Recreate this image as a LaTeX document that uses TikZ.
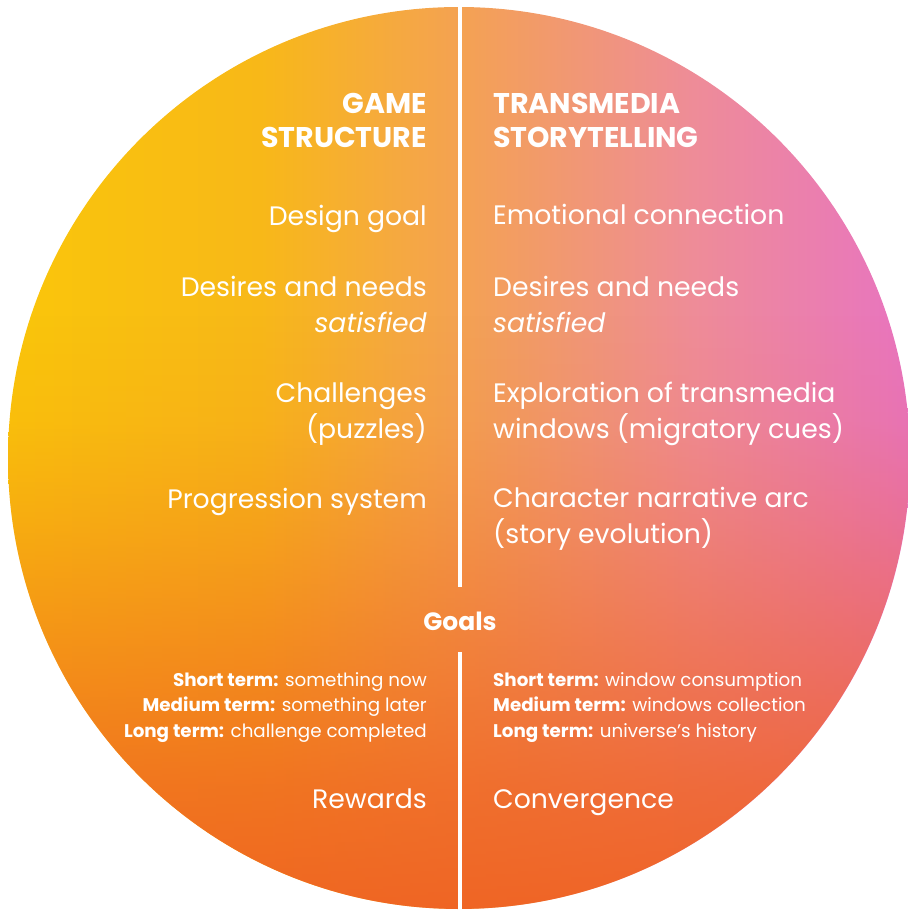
\documentclass[tikz,border=0pt]{standalone}
\usepackage{fontspec}
\setmainfont{Poppins}
\usetikzlibrary{fadings,positioning}

\definecolor{sunyellow}{HTML}{FAC60A}
\definecolor{amber}{HTML}{F8B818}
\definecolor{peach}{HTML}{F4A252}
\definecolor{salmon}{HTML}{EE8C98}
\definecolor{rosepink}{HTML}{E874C0}
\definecolor{ember}{HTML}{EF6222}

% the path box takes the part from 25bp to 75bp
\pgfdeclarehorizontalshading{halfshade}{100bp}{color(0bp)=(sunyellow); color(25bp)=(sunyellow); color(39bp)=(amber); color(50bp)=(peach); color(63bp)=(salmon); color(75bp)=(rosepink); color(100bp)=(rosepink)}
% bottom of the circle turns orange-red
\pgfdeclareverticalshading{goalshade}{100bp}{color(0bp)=(pgftransparent!5); color(25bp)=(pgftransparent!5); color(32bp)=(pgftransparent!22); color(41bp)=(pgftransparent!55); color(46.5bp)=(pgftransparent!75); color(52bp)=(pgftransparent!92); color(58bp)=(pgftransparent!100); color(100bp)=(pgftransparent!100)}
\begin{tikzfadingfrompicture}[name=goalfade]
  \shade[shading=goalshade] (-25bp,-25bp) rectangle (25bp,25bp);
\end{tikzfadingfrompicture}

\begin{document}
\begin{tikzpicture}[x=1pt,y=-1pt,
  head/.style={font=\bfseries\fontsize{28.5}{34}\selectfont,text=white,inner sep=0pt},
  body/.style={font=\fontsize{26.7}{36}\selectfont,text=white,inner sep=0pt},
  small/.style={font=\fontsize{18.3}{25.5}\selectfont,text=white,inner sep=0pt},
  lcol/.style={anchor=base east,align=right},
  rcol/.style={anchor=base west,align=left},
  divider/.style={white,line width=4.5pt}
]
  \useasboundingbox (0,0) rectangle (908,911);
  \shade[shading=halfshade] (459,458) circle[radius=451];
  \fill[ember,path fading=goalfade] (459,458) circle[radius=451];

  % left column (base = last line)
  \node[head,lcol] (gs)   at (427,147) {GAME\\STRUCTURE};
  \node[body,lcol] (dg)   at (427,225) {Design goal};
  \node[body,lcol] (dnl)  at (427,332) {Desires and needs\\\textit{satisfied}};
  \node[body,lcol] (ch)   at (427,438) {Challenges\\(puzzles)};
  \node[body,lcol] (ps)   at (427,508) {Progression system};
  \node[small,lcol] (gtl) at (427,737) {\textbf{Short term:} something now\\\textbf{Medium term:} something later\\\textbf{Long term:} challenge completed};
  \node[body,lcol] (rw)   at (427,808) {Rewards};

  % right column
  \node[head,rcol] (ts)   at (493,147) {TRANSMEDIA\\STORYTELLING};
  \node[body,rcol] (ec)   at (493,224) {Emotional connection};
  \node[body,rcol] (dnr)  at (493,332) {Desires and needs\\\textit{satisfied}};
  \node[body,rcol] (ex)   at (493,438) {Exploration of transmedia\\windows (migratory cues)};
  \node[body,rcol] (ca)   at (493,543) {Character narrative arc\\(story evolution)};
  \node[small,rcol] (gtr) at (493,737) {\textbf{Short term:} window consumption\\\textbf{Medium term:} windows collection\\\textbf{Long term:} universe’s history};
  \node[body,rcol] (cv)   at (493,808) {Convergence};

  \node[head,font=\bfseries\fontsize{25}{30}\selectfont,anchor=base] (goals) at (460,630) {Goals};

  \coordinate (dtop) at (460,0);
  \coordinate (dmid) at (460,587);
  \coordinate (dlow) at (460,652);
  \coordinate (dbot) at (460,911);
  \draw[divider] (dtop) -- (dmid);
  \draw[divider] (dlow) -- (dbot);
\end{tikzpicture}
\end{document}
